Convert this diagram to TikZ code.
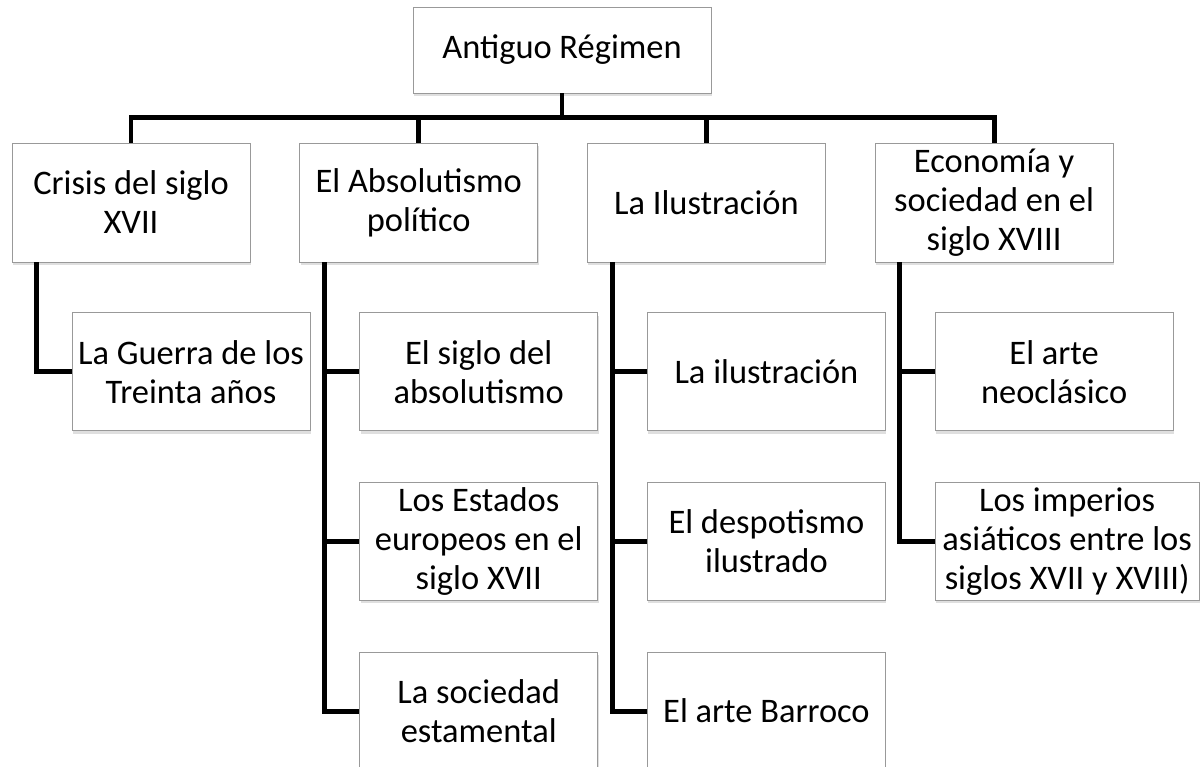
\documentclass[tikz,border=0pt]{standalone}
\usepackage{fontspec}
\setmainfont{Carlito}
\usetikzlibrary{positioning,shadows}
\tikzset{topic/.style={
    rectangle,minimum width=4.76cm,minimum height=2.38cm,
    thin,draw=black!40,fill=white,
    drop shadow={shadow xshift=0.6pt,shadow yshift=-1.6pt,opacity=0.25},
    align=center,inner sep=2pt,
    font=\fontsize{19.6}{22.2}\selectfont}}
\tikzset{subtopic/.style={topic,minimum height=2.36cm}}
\tikzset{link/.style={line width=2.8pt,draw=black}}

\begin{document}
\begin{tikzpicture}[node distance=1cm]
\useasboundingbox (0,0) rectangle (24,-15.34);

  \node (regimen)     [topic,minimum width=5.96cm,minimum height=1.72cm] at (11.24,-1.0) {Antiguo Régimen};

  \node (crisis)      [topic] at (2.62,-4.05)                {Crisis del siglo\\XVII};
  \node (absolutismo) [topic,right=0.98cm of crisis]        {El Absolutismo\\político};
  \node (ilustracion) [topic,right=0.98cm of absolutismo]   {La Ilustración};
  \node (economia)    [topic,right=0.98cm of ilustracion]   {Economía y\\sociedad en el\\siglo XVIII};

  \node (guerra)     [subtopic,below right=1cm and 1.2cm of crisis.south west]      {La Guerra de los\\Treinta años};
  \node (siglo)      [subtopic,below right=1cm and 1.2cm of absolutismo.south west] {El siglo del\\absolutismo};
  \node (estados)    [subtopic,below=1.02cm of siglo]                                {Los Estados\\europeos en el\\siglo XVII};
  \node (sociedad)   [subtopic,below=1.02cm of estados]                              {La sociedad\\estamental};
  \node (ideas)      [subtopic,below right=1cm and 1.2cm of ilustracion.south west] {La ilustración};
  \node (despotismo) [subtopic,below=1.02cm of ideas]                                {El despotismo\\ilustrado};
  \node (barroco)    [subtopic,below=1.02cm of despotismo]                           {El arte Barroco};
  \node (neoclasico) [subtopic,below right=1cm and 1.2cm of economia.south west]    {El arte\\neoclásico};
  \node (imperios)   [subtopic,minimum width=5.28cm,below=1.02cm of neoclasico.south west,anchor=north west] {Los imperios\\asiáticos entre los\\siglos XVII y XVIII)};

\draw [link] (regimen.south) -- ++(0,-0.5);
\draw [link] (crisis.north) -- ++(0,0.5) -| (economia.north);
\draw [link] (absolutismo.north) -- ++(0,0.5);
\draw [link] (ilustracion.north) -- ++(0,0.5);

\draw [link] ([xshift=5mm]crisis.south west) |- (guerra.west);
\draw [link] ([xshift=5mm]absolutismo.south west) |- (sociedad.west);
\draw [link] ([xshift=5mm]absolutismo.south west) |- (siglo.west);
\draw [link] ([xshift=5mm]absolutismo.south west) |- (estados.west);
\draw [link] ([xshift=5mm]ilustracion.south west) |- (barroco.west);
\draw [link] ([xshift=5mm]ilustracion.south west) |- (ideas.west);
\draw [link] ([xshift=5mm]ilustracion.south west) |- (despotismo.west);
\draw [link] ([xshift=5mm]economia.south west) |- (imperios.west);
\draw [link] ([xshift=5mm]economia.south west) |- (neoclasico.west);

\end{tikzpicture}
\end{document}
